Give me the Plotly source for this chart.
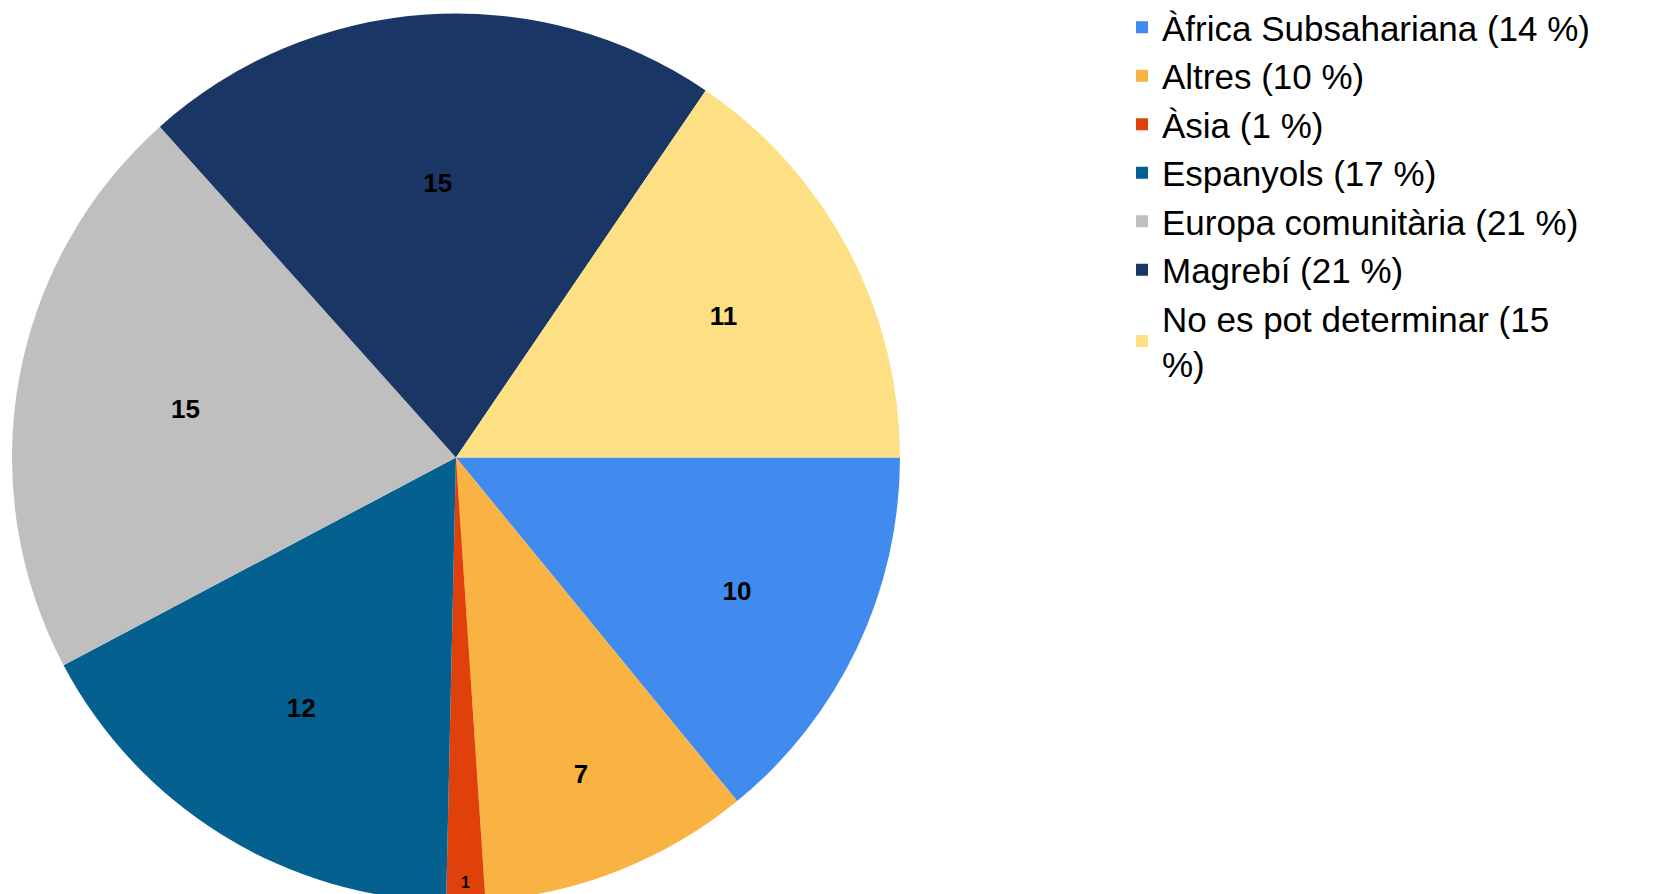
import plotly.graph_objects as go

categories = ["Àfrica Subsahariana", "Altres", "Àsia", "Espanyols",
              "Europa comunitària", "Magrebí", "No es pot determinar"]
values = [10, 7, 1, 12, 15, 15, 11]
colors = ["#418BEF", "#F9B342", "#E0400A", "#04618F", "#BFBFBF", "#1A3664", "#FDE084"]

total = sum(values)
legend_labels = []
for name, v in zip(categories, values):
    pct = round(v / total * 100)
    if name == "No es pot determinar":
        # this one wraps in the original legend
        legend_labels.append(f"{name} ({pct}<br>%)")
    else:
        legend_labels.append(f"{name} ({pct} %)")

W, H = 1658, 894

# the thin Àsia slice gets a smaller label so it can sit inside the wedge
label_sizes = [26 if v > 1 else 16 for v in values]

fig = go.Figure(go.Pie(
    labels=legend_labels,
    values=values,
    text=[str(v) for v in values],
    textinfo="text",
    textposition="inside",
    insidetextorientation="horizontal",
    textfont=dict(family="Liberation Sans", size=label_sizes, color="black", weight="bold"),
    marker=dict(colors=colors, line=dict(width=0)),
    sort=False,
    direction="clockwise",
    rotation=90,
    domain=dict(x=[4 / W, 892 / W], y=[0, 1 - 5 / H]),
    hoverinfo="label+value",
))

fig.update_layout(
    width=W,
    height=H,
    margin=dict(l=0, r=0, t=0, b=0, autoexpand=False),
    paper_bgcolor="white",
    font=dict(family="Liberation Sans", color="black"),
    legend=dict(
        x=1114 / W, y=1 + 10 / H, xanchor="left", yanchor="top",
        font=dict(family="Liberation Sans", size=35, color="black"),
        traceorder="normal",
        itemwidth=30,
        bgcolor="rgba(0,0,0,0)",
    ),
)

fig.write_html("out.html")
